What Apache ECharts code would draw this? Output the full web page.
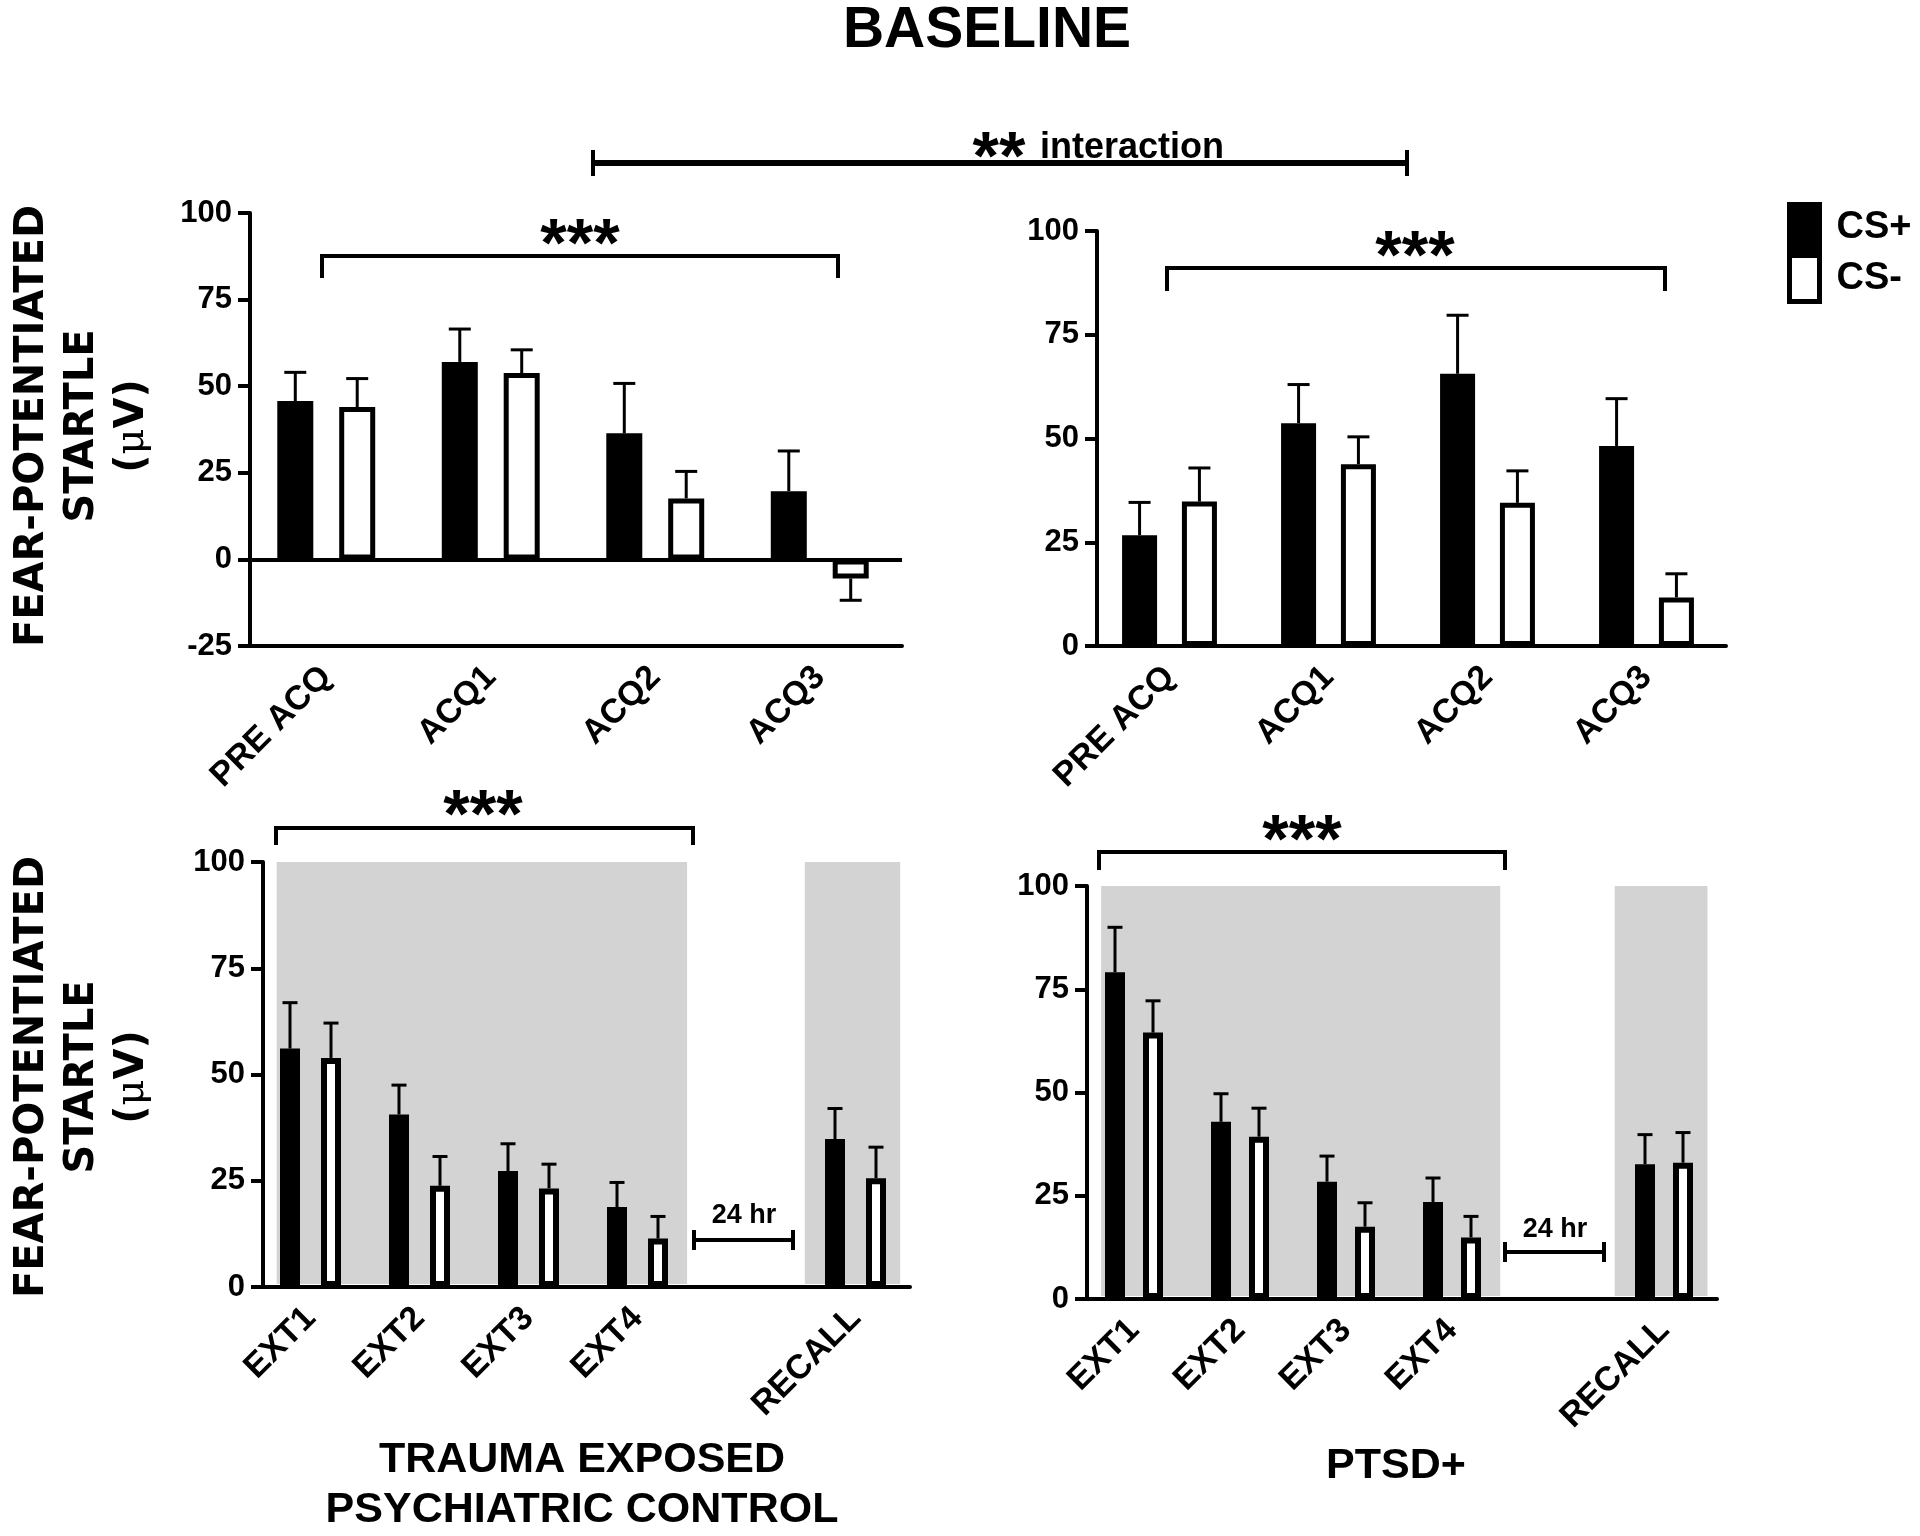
<!DOCTYPE html>
<html><head><meta charset="utf-8">
<script src="https://cdn.jsdelivr.net/npm/echarts@6/dist/echarts.min.js"></script>
<style>html,body{margin:0;padding:0;background:#fff}#c{width:1920px;height:1536px}</style>
</head><body><div id="c"></div>
<script>
// ---------- DATA ----------
const acqCategories = ['PRE ACQ', 'ACQ1', 'ACQ2', 'ACQ3'];
const extCategories = ['EXT1', 'EXT2', 'EXT3', 'EXT4', '', 'RECALL'];

// Trauma exposed psychiatric control - acquisition
const ctrlAcqCSplus     = [45.7, 57.0, 36.4, 19.7];
const ctrlAcqCSplusSem  = [8.3, 9.5, 14.4, 11.6];
const ctrlAcqCSminus    = [44.0, 53.8, 17.6, -5.5];
const ctrlAcqCSminusSem = [8.2, 6.7, 7.8, 6.3];

// PTSD+ - acquisition
const ptsdAcqCSplus     = [26.7, 53.7, 65.6, 48.2];
const ptsdAcqCSplusSem  = [7.9, 9.3, 14.1, 11.4];
const ptsdAcqCSminus    = [34.8, 43.8, 34.5, 11.7];
const ptsdAcqCSminusSem = [8.1, 6.6, 7.7, 5.7];

// Trauma exposed psychiatric control - extinction / recall
const ctrlExtCSplus     = [56.1, 40.6, 27.3, 18.8, null, 34.8];
const ctrlExtCSplusSem  = [10.8, 6.9, 6.4, 5.8, null, 7.2];
const ctrlExtCSminus    = [53.9, 23.8, 23.2, 11.4, null, 25.6];
const ctrlExtCSminusSem = [8.2, 6.9, 5.7, 5.2, null, 7.3];

// PTSD+ - extinction / recall
const ptsdExtCSplus     = [79.1, 42.9, 28.4, 23.5, null, 32.6];
const ptsdExtCSplusSem  = [10.9, 6.8, 6.2, 5.8, null, 7.2];
const ptsdExtCSminus    = [64.5, 39.3, 17.5, 14.9, null, 33.0];
const ptsdExtCSminusSem = [7.7, 6.9, 5.8, 5.1, null, 7.3];

// shaded phases (category index ranges): extinction session, recall session
const shadedPhases = [[0, 3], [5, 5]];

// y axis ranges
const yAxisAcqCtrl = {min: -25, max: 100, interval: 25};
const yAxisAcqPtsd = {min: 0, max: 100, interval: 25};
const yAxisExt     = {min: 0, max: 100, interval: 25};

// ---------- STYLE ----------
const NUM_FONT = 'Liberation Sans, Arial, Helvetica, sans-serif';
const TITLE_FONT = 'DejaVu Sans, Verdana, sans-serif';
const SHADE_PADS = [[-0.31, 0.455], [-0.465, 0.41]];

const panels = [
  {grid: {left: 244, top: 213, width: 658, height: 433}, yOff: -6, y: yAxisAcqCtrl, cats: acqCategories,
   plus: ctrlAcqCSplus, plusSem: ctrlAcqCSplusSem, minus: ctrlAcqCSminus, minusSem: ctrlAcqCSminusSem,
   barW: 36, gap: 0.72, border: 5, cap: 22, zeroLine: true, shaded: false},
  {grid: {left: 1090, top: 231, width: 636, height: 415}, yOff: -7, y: yAxisAcqPtsd, cats: acqCategories,
   plus: ptsdAcqCSplus, plusSem: ptsdAcqCSplusSem, minus: ptsdAcqCSminus, minusSem: ptsdAcqCSminusSem,
   barW: 35, gap: 0.71, border: 5, cap: 22, zeroLine: false, shaded: false},
  {grid: {left: 256, top: 862, width: 654, height: 425}, yOff: -7, y: yAxisExt, cats: extCategories,
   plus: ctrlExtCSplus, plusSem: ctrlExtCSplusSem, minus: ctrlExtCSminus, minusSem: ctrlExtCSminusSem,
   barW: 20, gap: 1.05, border: 6, cap: 15, zeroLine: false, shaded: true},
  {grid: {left: 1081, top: 886, width: 636, height: 413}, yOff: -6, y: yAxisExt, cats: extCategories,
   plus: ptsdExtCSplus, plusSem: ptsdExtCSplusSem, minus: ptsdExtCSminus, minusSem: ptsdExtCSminusSem,
   barW: 20, gap: 0.90, border: 6, cap: 15, zeroLine: false, shaded: true}
];

const grids = [], xAxes = [], yAxes = [], series = [];

function errRender(offset, capW) {
  return function (params, api) {
    const idx = api.value(0), m = api.value(1), s = api.value(2);
    if (isNaN(m)) return;
    const dir = m < 0 ? -1 : 1;
    const p0 = api.coord([idx, m]);
    const p1 = api.coord([idx, m + dir * s]);
    const x = p0[0] + offset;
    const st = {stroke: '#000', lineWidth: 3};
    return {type: 'group', children: [
      {type: 'line', shape: {x1: x, y1: p0[1], x2: x, y2: p1[1]}, style: st},
      {type: 'line', shape: {x1: x - capW / 2, y1: p1[1], x2: x + capW / 2, y2: p1[1]}, style: st}
    ]};
  };
}

function shadeRender(params, api) {
  const a = api.value(0), b = api.value(1), k = params.dataIndex;
  const band = api.size([1, 0])[0];
  const pTop = api.coord([a, 100]);
  const pEnd = api.coord([b, 0]);
  const x0 = pTop[0] + SHADE_PADS[k][0] * band;
  const x1 = pEnd[0] + SHADE_PADS[k][1] * band;
  return {type: 'rect', shape: {x: x0, y: pTop[1], width: x1 - x0, height: pEnd[1] - pTop[1] - 3},
          style: {fill: '#d3d3d3'}};
}

panels.forEach(function (p, i) {
  grids.push(Object.assign({containLabel: false}, p.grid));
  xAxes.push({
    type: 'category', gridIndex: i, data: p.cats, boundaryGap: true,
    axisLine: {show: true, onZero: false, lineStyle: {color: '#000', width: 4}},
    axisTick: {show: false},
    axisLabel: {interval: 0, rotate: 45, fontSize: 34, fontWeight: 'bold', color: '#000',
                fontFamily: NUM_FONT, margin: 26},
    splitLine: {show: false}
  });
  yAxes.push({
    type: 'value', gridIndex: i, min: p.y.min, max: p.y.max, interval: p.y.interval, offset: p.yOff,
    axisLine: {show: true, lineStyle: {color: '#000', width: 4}},
    axisTick: {show: true, length: 12, lineStyle: {color: '#000', width: 4}},
    axisLabel: {fontSize: 31, fontWeight: 'bold', color: '#000', fontFamily: NUM_FONT, margin: 18},
    splitLine: {show: false}
  });
  if (p.shaded) {
    series.push({type: 'custom', name: 'shade' + i, xAxisIndex: i, yAxisIndex: i, z: 1,
      renderItem: shadeRender, data: shadedPhases, silent: true});
  }
  const plusBar = {
    type: 'bar', name: 'CS+', xAxisIndex: i, yAxisIndex: i, z: 3,
    data: p.plus.map(v => v === null ? '-' : v),
    barWidth: p.barW, barGap: Math.round(p.gap * 100) + '%',
    itemStyle: {color: '#000', borderColor: '#000', borderWidth: p.border}
  };
  if (p.zeroLine) {
    plusBar.markLine = {silent: true, symbol: ['none', 'none'], label: {show: false},
      lineStyle: {color: '#000', width: 4, type: 'solid'}, data: [{yAxis: 0}]};
  }
  series.push(plusBar);
  series.push({
    type: 'bar', name: 'CS-', xAxisIndex: i, yAxisIndex: i, z: 3,
    data: p.minus.map(v => v === null ? '-' : v),
    barWidth: p.barW, barGap: Math.round(p.gap * 100) + '%',
    itemStyle: {color: '#fff', borderColor: '#000', borderWidth: p.border}
  });
  const off = p.barW * (1 + p.gap) / 2;
  const errData = (m, s) => m.map((v, k) => [k, v, s[k]]).filter(r => r[1] !== null);
  series.push({type: 'custom', name: 'CS+ sem ' + i, xAxisIndex: i, yAxisIndex: i, z: 4, silent: true,
    renderItem: errRender(-off, p.cap), encode: {x: 0, y: 1}, data: errData(p.plus, p.plusSem)});
  series.push({type: 'custom', name: 'CS- sem ' + i, xAxisIndex: i, yAxisIndex: i, z: 4, silent: true,
    renderItem: errRender(off, p.cap), encode: {x: 0, y: 1}, data: errData(p.minus, p.minusSem)});
});

function txt(text, x, y, size, opts) {
  opts = opts || {};
  return {type: 'text', x: x, y: y, rotation: opts.rotation || 0, z: 10,
    style: {text: text, fontSize: size, fontWeight: 'bold', fontFamily: opts.family || NUM_FONT,
      fill: '#000', align: opts.align || 'center', verticalAlign: opts.va || 'middle',
      lineHeight: opts.lineHeight, rich: opts.rich}};
}
function bracket(x1, x2, y, yEnd, w) {
  return {type: 'polyline', z: 10, shape: {points: [[x1, yEnd], [x1, y], [x2, y], [x2, yEnd]]},
    style: {stroke: '#000', lineWidth: w || 4, fill: null}};
}
function hbar(x1, x2, y, h, w) {
  return {type: 'group', z: 10, children: [
    {type: 'line', shape: {x1: x1, y1: y, x2: x2, y2: y}, style: {stroke: '#000', lineWidth: w}},
    {type: 'line', shape: {x1: x1, y1: y - h, x2: x1, y2: y + h}, style: {stroke: '#000', lineWidth: 4}},
    {type: 'line', shape: {x1: x2, y1: y - h, x2: x2, y2: y + h}, style: {stroke: '#000', lineWidth: 4}}
  ]};
}

const yTitleRich = {mu: {fontWeight: 'normal', fontFamily: 'DejaVu Serif, serif', fontSize: 40, lineHeight: 50}};
const yTitleText = 'FEAR-POTENTIATED\nSTARTLE\n({mu|\u03bc}V)';

const graphics = [
  txt('BASELINE', 987, 31, 57),
  hbar(593, 1407, 163, 13, 6),
  txt('**', 999, 160, 68),
  txt('interaction', 1040, 148, 36, {align: 'left'}),
  bracket(322, 838, 256, 278, 4), txt('***', 580, 247, 68),
  bracket(1167, 1665, 268, 291, 4), txt('***', 1415, 259, 68),
  bracket(276, 693, 828, 845, 4), txt('***', 483, 818, 68),
  bracket(1099, 1505, 852, 870, 4), txt('***', 1302, 843, 68),
  hbar(694, 793, 1240, 10, 4), txt('24 hr', 744, 1216, 27),
  hbar(1505, 1604, 1252, 10, 4), txt('24 hr', 1555, 1230, 27),
  txt(yTitleText, 83, 426, 40,
      {rotation: Math.PI / 2, family: TITLE_FONT, lineHeight: 50, rich: yTitleRich}),
  txt(yTitleText, 83, 1077, 40,
      {rotation: Math.PI / 2, family: TITLE_FONT, lineHeight: 50, rich: yTitleRich}),
  txt('TRAUMA EXPOSED', 582, 1460, 43),
  txt('PSYCHIATRIC CONTROL', 582, 1510, 43),
  txt('PTSD+', 1396, 1466, 43)
];

const chart = echarts.init(document.getElementById('c'), null, {renderer: 'canvas'});
chart.setOption({
  animation: false,
  backgroundColor: '#fff',
  grid: grids, xAxis: xAxes, yAxis: yAxes, series: series,
  legend: {
    orient: 'vertical', left: 1782, top: 197, itemWidth: 30, itemHeight: 46, itemGap: 0,
    selectedMode: false, icon: 'rect',
    data: [
      {name: 'CS+', itemStyle: {color: '#000', borderColor: '#000', borderWidth: 5}},
      {name: 'CS-', itemStyle: {color: '#fff', borderColor: '#000', borderWidth: 5}}
    ],
    textStyle: {fontSize: 38, fontWeight: 'bold', color: '#000', fontFamily: NUM_FONT, padding: [0, 0, 0, 12]}
  },
  graphic: graphics
});
</script></body></html>
